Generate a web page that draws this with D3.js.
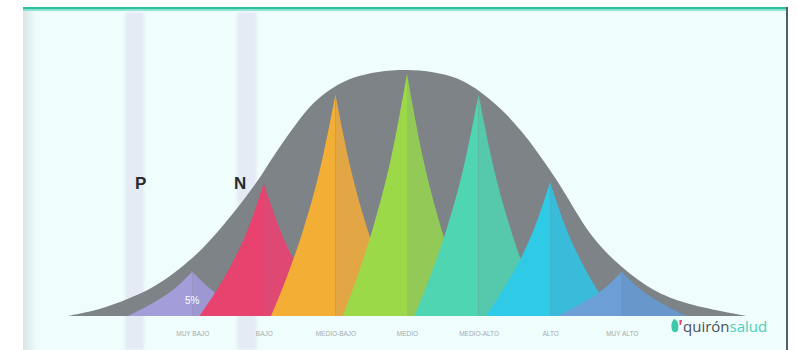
<!DOCTYPE html>
<html>
<head>
<meta charset="utf-8">
<script src="https://cdn.jsdelivr.net/npm/d3@7"></script>
<style>
  body { margin: 0; background: #ffffff; }
  svg { display: block; font-family: "Liberation Sans", Arial, sans-serif; }
</style>
</head>
<body>
<div id="wrapper"></div>
<script>
/*global d3*/

// categories along the bottom, centred on MEDIO = 0
const categories = ["MUY BAJO", "BAJO", "MEDIO-BAJO", "MEDIO", "MEDIO-ALTO", "ALTO", "MUY ALTO"]
const categoryPos = [-3, -2, -1, 0, 1, 2, 3]
// height of each coloured spike (bell peak = 100)
const peakValues = [18, 54, 90, 98.5, 90, 54.5, 18]
const halfWidth = 0.9

// spike profile: offset from the tip vs share of the tip height
const spikeOffsets = [1, 0.75, 0.5, 0.25, 0]
const spikeShares = [0, 0.18, 0.39, 0.65, 1]

// outline of the grey bell
const bellPos = [-4.75, -4.25, -3.55, -3.0, -2.6, -2.15, -1.7, -1.25, -0.75, 0, 0.7, 1.2, 1.6, 2.05, 2.6, 3.0, 3.45, 3.9, 4.75]
const bellValues = [0, 3.3, 11.8, 23.6, 35.8, 52.4, 72, 88, 96.8, 100, 96.5, 87, 75, 57, 32, 20, 10.6, 5.3, 0]

const lightColors = ["#a39dd9", "#e8426f", "#f2ae35", "#9cd949", "#4fd5b1", "#2fcbe6", "#6c9fd6"]
const darkColors = ["#9e98d2", "#df4873", "#e2a644", "#93ca57", "#56c8ac", "#38bcd9", "#6898cb"]

// the two pale columns and the letters next to them
const columnPos = [-3.8, -2.23]
const letterPos = [-3.72, -2.33]
const letters = ["P", "N"]

function drawChart() {

    const dims = {
        width: 797,
        height: 350,
        frame: { left: 23, right: 787, top: 7 },
        baseline: 316,
        top: 70,
    }

    const svg = d3.select("#wrapper")
        .append("svg")
        .attr("width", dims.width)
        .attr("height", dims.height)

    const defs = svg.append("defs")

    const shade = defs.append("linearGradient")
        .attr("id", "leftShade")
    shade.append("stop").attr("offset", "0%").attr("stop-color", "#d9e6e6")
    shade.append("stop").attr("offset", "100%").attr("stop-color", "#effdfc")

    defs.append("filter")
        .attr("id", "soft")
        .append("feGaussianBlur")
        .attr("stdDeviation", 1.5)

    // frame
    svg.append("rect")
        .attr("x", dims.frame.left)
        .attr("y", dims.frame.top)
        .attr("width", dims.frame.right - dims.frame.left)
        .attr("height", dims.height - dims.frame.top)
        .attr("fill", "#effdfc")

    svg.append("rect")
        .attr("x", dims.frame.left)
        .attr("y", dims.frame.top)
        .attr("width", 14)
        .attr("height", dims.height - dims.frame.top)
        .attr("fill", "url(#leftShade)")

    svg.append("rect")
        .attr("x", dims.frame.left)
        .attr("y", dims.frame.top)
        .attr("width", dims.frame.right - dims.frame.left)
        .attr("height", 2.5)
        .attr("fill", "#2bbf9d")
    svg.append("rect")
        .attr("x", dims.frame.left)
        .attr("y", dims.frame.top + 2.5)
        .attr("width", dims.frame.right - dims.frame.left)
        .attr("height", 1.5)
        .attr("fill", "#8ee3d2")

    svg.append("rect")
        .attr("x", dims.frame.right - 1)
        .attr("y", dims.frame.top)
        .attr("width", 2)
        .attr("height", dims.height - dims.frame.top)
        .attr("fill", "#4d6464")

    // scales
    const xScale = d3.scaleLinear()
        .domain([-4.75, 4.75])
        .range([67, 747])

    const yScale = d3.scaleLinear()
        .domain([0, 100])
        .range([dims.baseline, dims.top])

    // pale columns
    svg.append("g")
        .selectAll("rect")
        .data(columnPos)
        .join("rect")
        .attr("x", d => xScale(d) - 10)
        .attr("y", 12)
        .attr("width", 19)
        .attr("height", dims.height - 12)
        .attr("fill", "#e5ebf5")
        .attr("filter", "url(#soft)")

    // bell
    const bellData = bellPos.map((p, i) => ({ pos: p, value: bellValues[i] }))

    const bellArea = d3.area()
        .x(d => xScale(d.pos))
        .y0(yScale(0))
        .y1(d => yScale(d.value))
        .curve(d3.curveCatmullRom.alpha(0.5))

    const spikeArea = d3.area()
        .x(d => xScale(d.pos))
        .y0(yScale(0))
        .y1(d => yScale(d.value))
        .curve(d3.curveMonotoneX)

    defs.append("clipPath")
        .attr("id", "bellClip")
        .append("path")
        .attr("d", bellArea(bellData))

    svg.append("path")
        .attr("d", bellArea(bellData))
        .attr("fill", "#7d8386")

    // spikes, one per category, left half lighter than the right half
    const spikes = svg.append("g")
        .attr("clip-path", "url(#bellClip)")

    categories.forEach((c, i) => {
        const centre = categoryPos[i]
        const leftHalf = spikeOffsets.map((o, k) => ({
            pos: centre - o * halfWidth,
            value: peakValues[i] * spikeShares[k],
        }))
        const rightHalf = spikeOffsets.slice().reverse().map((o, k) => ({
            pos: centre + o * halfWidth,
            value: peakValues[i] * spikeShares[spikeShares.length - 1 - k],
        }))

        const g = spikes.append("g")
        g.append("path")
            .attr("d", spikeArea(leftHalf))
            .attr("fill", lightColors[i])
        g.append("path")
            .attr("d", spikeArea(rightHalf))
            .attr("fill", darkColors[i])
    })

    svg.append("text")
        .attr("x", xScale(categoryPos[0]))
        .attr("y", 304)
        .attr("text-anchor", "middle")
        .attr("fill", "#ffffff")
        .style("font-size", "10px")
        .text("5%")

    // letters
    svg.append("g")
        .selectAll("text")
        .data(letters)
        .join("text")
        .attr("x", (d, i) => xScale(letterPos[i]))
        .attr("y", 189)
        .attr("text-anchor", "middle")
        .attr("fill", "#262a2c")
        .style("font-size", "17px")
        .style("font-weight", "bold")
        .text(d => d)

    // category labels
    const xAxisGenerator = d3.axisBottom()
        .scale(xScale)
        .tickValues(categoryPos)
        .tickFormat((d, i) => categories[i])
        .tickSize(0)

    const xAxis = svg.append("g")
        .attr("transform", `translate(0, ${dims.baseline + 12})`)
        .call(xAxisGenerator)

    xAxis.select(".domain").remove()
    xAxis.selectAll("text")
        .attr("fill", "#a5abad")
        .style("font-size", "6.5px")
        .style("font-family", "'Liberation Sans', Arial, sans-serif")

    // logo
    const logo = svg.append("g")
        .attr("transform", "translate(671, 319)")

    logo.append("path")
        .attr("d", "M3,0 C7,1 8,6 7,11 C6,14 2,14 1,11 C0,7 0,3 3,0 Z")
        .attr("fill", "#3dc9a9")
    logo.append("path")
        .attr("d", "M8.5,1 L11,1 L10,6 L8.5,6 Z")
        .attr("fill", "#e0476f")

    logo.append("text")
        .attr("x", 12)
        .attr("y", 13)
        .style("font-size", "15px")
        .style("font-family", "'Open Sans', 'Liberation Sans', sans-serif")
        .call(t => t.append("tspan").attr("fill", "#4a4f5e").text("quirón"))
        .call(t => t.append("tspan").attr("fill", "#4bd0b8").text("salud"))
}

drawChart()
</script>
</body>
</html>
